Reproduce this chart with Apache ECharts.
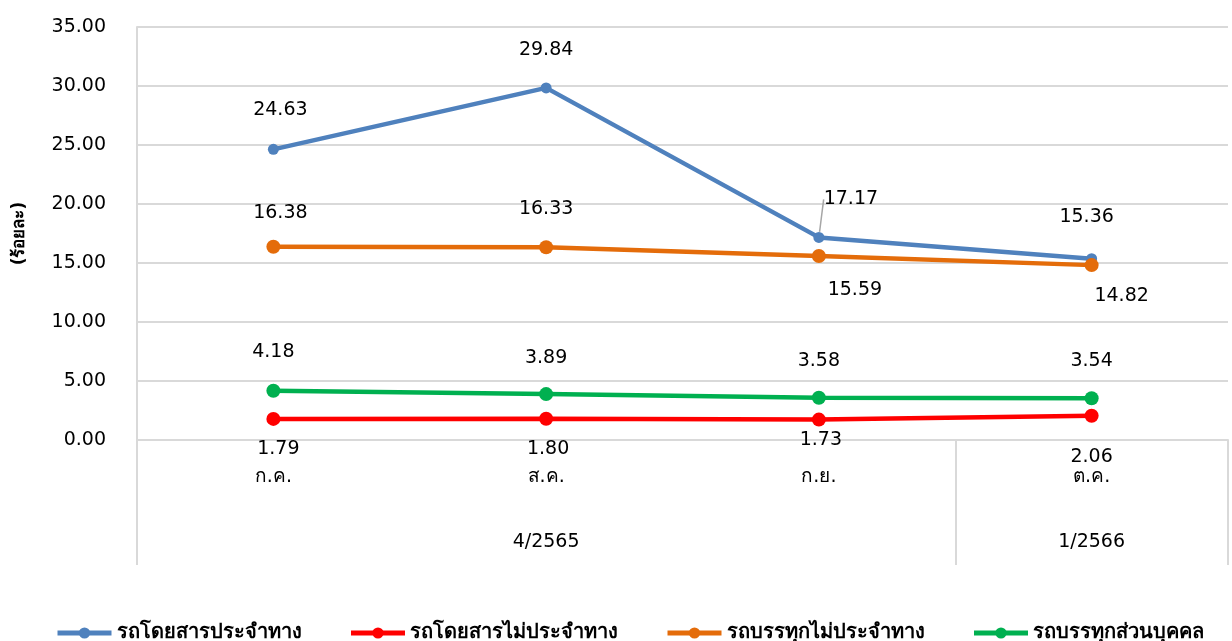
<!DOCTYPE html>
<html>
<head>
<meta charset="utf-8">
<script src="https://cdn.jsdelivr.net/npm/echarts@6/dist/echarts.min.js"></script>
<style>html,body{margin:0;padding:0;background:#fff;}#c{width:1232px;height:641px;}</style>
</head>
<body>
<div id="c"></div>
<script>
const months = ['ก.ค.', 'ส.ค.', 'ก.ย.', 'ต.ค.'];
const quarters = ['', '4/2565', '', '1/2566'];
const seriesNames = ['รถโดยสารประจำทาง', 'รถโดยสารไม่ประจำทาง', 'รถบรรทุกไม่ประจำทาง', 'รถบรรทุกส่วนบุคคล'];
const busRegular = [24.63, 29.84, 17.17, 15.36];
const busNonRegular = [1.79, 1.80, 1.73, 2.06];
const truckNonRegular = [16.38, 16.33, 15.59, 14.82];
const truckPrivate = [4.18, 3.89, 3.58, 3.54];
const yTicks = [0, 5, 10, 15, 20, 25, 30, 35];

// label placement (style, pixels relative to the point)
const offBus = [[7, -39], [0, -38], [32, -38], [-5, -42]];
const offBusNR = [[5, 30], [2, 30], [2, 20], [0, 41]];
const offTruckNR = [[7, -34], [0, -38], [36, 34], [30, 31]];
const offTruckP = [[0, -39], [0, -36], [0, -37], [0, -37]];

const FONT = 'Tahoma, "DejaVu Sans", "Noto Sans", sans-serif';
const colors = ['#4f81bd', '#ff0000', '#e46c0a', '#00b050'];

function mk(name, data, color, offs, symSize, leaderIdx) {
  return {
    name: name, type: 'line', data: data.map((v, i) => {
      const d = {value: v};
      if (i === leaderIdx) {
        d.labelLine = {show: true, lineStyle: {color: '#a6a6a6', width: 1.5}};
      }
      return d;
    }),
    color: color,
    lineStyle: {width: 4.5, color: color},
    symbol: 'circle', symbolSize: symSize,
    itemStyle: {color: color},
    label: {show: true, position: 'inside', formatter: p => p.value.toFixed(2),
            color: '#000', fontSize: 19, fontFamily: FONT},
    labelLayout: p => ({dx: offs[p.dataIndex][0], dy: offs[p.dataIndex][1]}),
    labelLine: {show: false},
    animation: false
  };
}

const chart = echarts.init(document.getElementById('c'));
chart.setOption({
  backgroundColor: '#fff',
  animation: false,
  grid: {left: 137, right: 4, top: 27, bottom: 201, containLabel: false, outerBoundsMode: 'none'},
  legend: {
    bottom: -7, left: 50, itemWidth: 54, itemHeight: 14, itemGap: 47,
    lineStyle: {width: 5},
    data: seriesNames,
    textStyle: {fontSize: 20, fontWeight: 'bold', color: '#000', fontFamily: FONT}
  },
  xAxis: [{
    type: 'category', data: months, boundaryGap: true, position: 'bottom',
    axisLine: {show: true, lineStyle: {color: '#d9d9d9', width: 2}},
    axisTick: {show: true, length: 125, interval: (i) => i === 0 || i === 3, lineStyle: {color: '#d9d9d9', width: 2}},
    axisLabel: {fontSize: 19, color: '#000', fontFamily: FONT, margin: 28},
    splitLine: {show: false}
  }, {
    type: 'category', data: quarters, boundaryGap: true, position: 'bottom',
    axisLine: {show: false}, axisTick: {show: false},
    axisLabel: {fontSize: 19, color: '#000', fontFamily: FONT, margin: 93, interval: 0},
    splitLine: {show: false}
  }],
  yAxis: {
    type: 'value', min: yTicks[0], max: yTicks[yTicks.length - 1], interval: 5,
    name: '(ร้อยละ)', nameLocation: 'middle', nameGap: 109, nameRotate: 90,
    nameTextStyle: {fontSize: 17, fontWeight: 'bold', color: '#000', fontFamily: FONT},
    axisLine: {show: true, lineStyle: {color: '#d9d9d9', width: 2}},
    axisTick: {show: false},
    axisLabel: {formatter: v => v.toFixed(2), fontSize: 19, color: '#000', fontFamily: FONT, margin: 31},
    splitLine: {lineStyle: {color: '#d9d9d9', width: 2}}
  },
  series: [
    mk(seriesNames[0], busRegular, colors[0], offBus, 11, 2),
    mk(seriesNames[1], busNonRegular, colors[1], offBusNR, 14, -1),
    mk(seriesNames[2], truckNonRegular, colors[2], offTruckNR, 14, -1),
    mk(seriesNames[3], truckPrivate, colors[3], offTruckP, 14, -1)
  ]
});
</script>
</body>
</html>
